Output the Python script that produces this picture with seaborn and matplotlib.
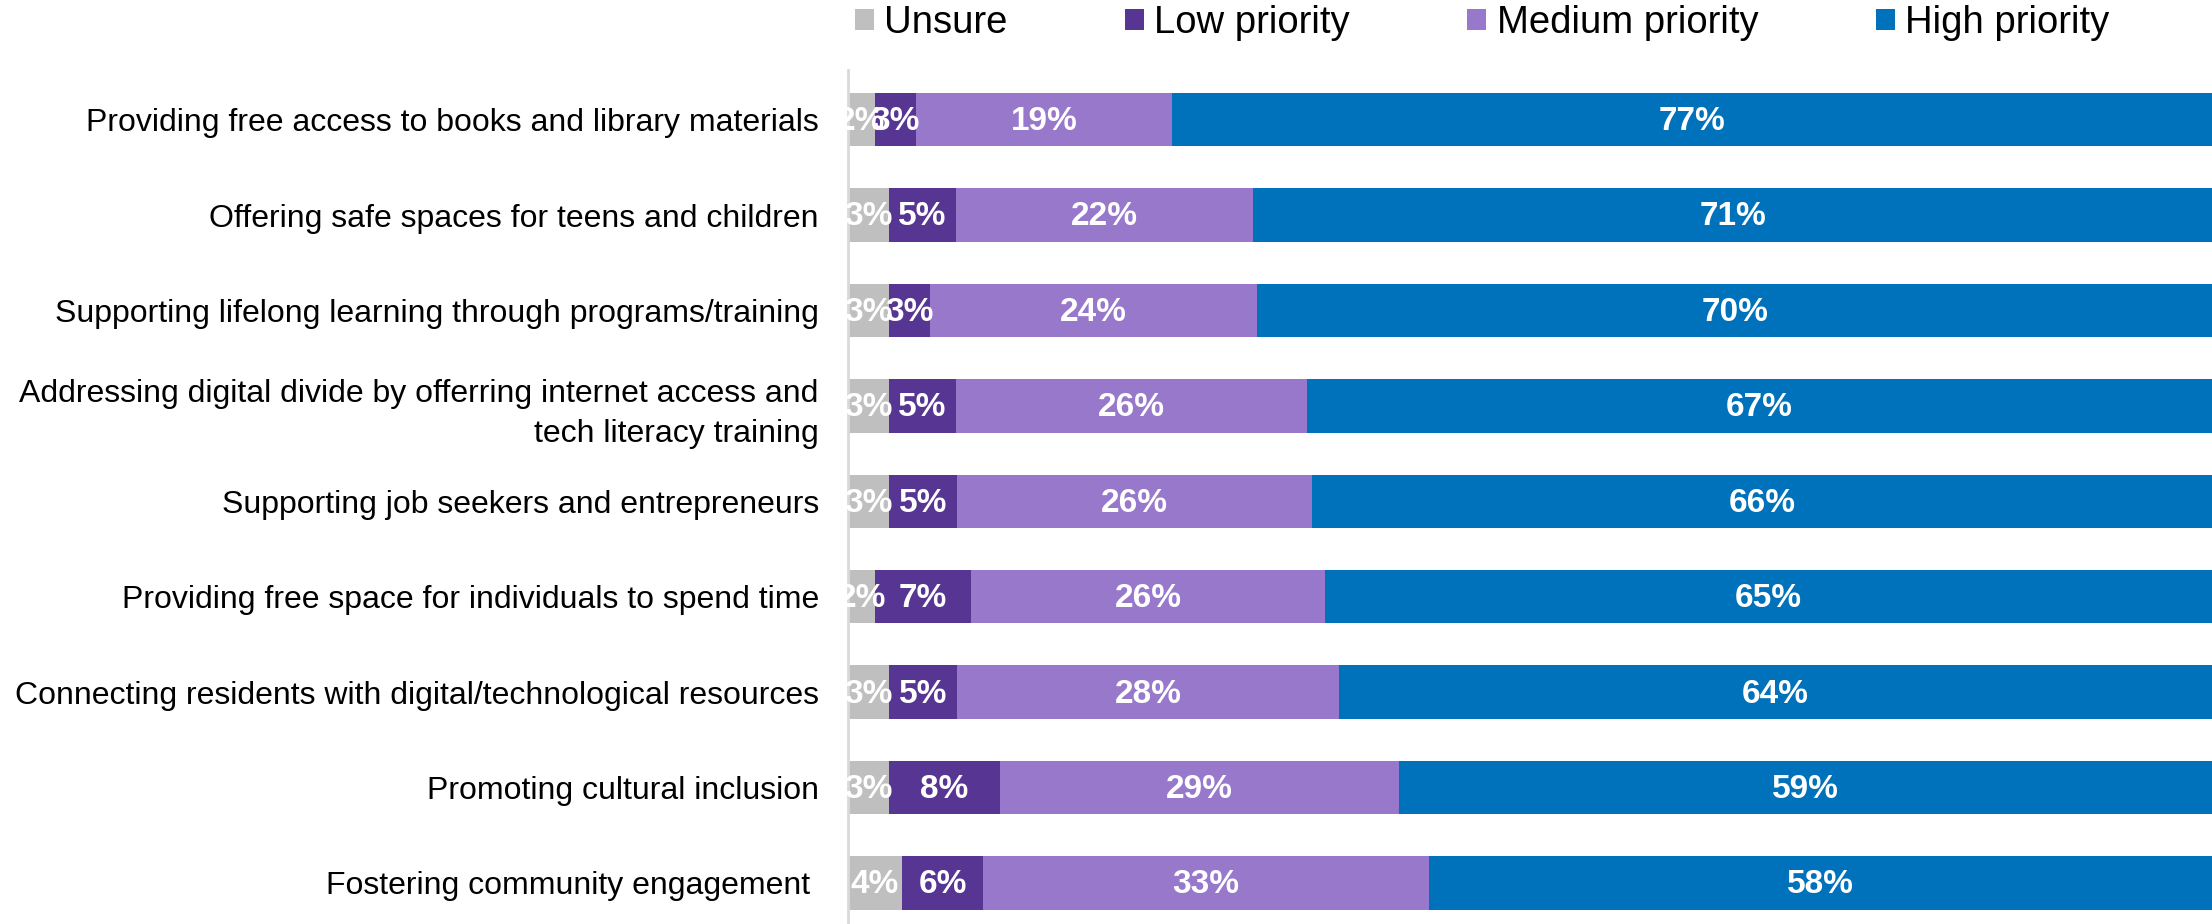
import matplotlib.pyplot as plt
from matplotlib.patches import Patch
import pandas as pd
import seaborn as sns


ITEMS = [
    "Providing free access to books and library materials",
    "Offering safe spaces for teens and children",
    "Supporting lifelong learning through programs/training",
    "Addressing digital divide by offerring internet access and\ntech literacy training",
    "Supporting job seekers and entrepreneurs",
    "Providing free space for individuals to spend time",
    "Connecting residents with digital/technological resources",
    "Promoting cultural inclusion",
    "Fostering community engagement ",
]
UNSURE = [2, 3, 3, 3, 3, 2, 3, 3, 4]
LOW = [3, 5, 3, 5, 5, 7, 5, 8, 6]
MEDIUM = [19, 22, 24, 26, 26, 26, 28, 29, 33]
HIGH = [77, 71, 70, 67, 66, 65, 64, 59, 58]

SERIES = ["Unsure", "Low priority", "Medium priority", "High priority"]
PALETTE = {
    "Unsure": "#bfbfbf",
    "Low priority": "#573593",
    "Medium priority": "#9778cb",
    "High priority": "#0071bb",
}


def main():
    sns.set_theme(style="white")
    plt.rcParams["font.family"] = ["Liberation Sans", "DejaVu Sans"]

    df = pd.DataFrame({
        "item": ITEMS,
        "Unsure": UNSURE,
        "Low priority": LOW,
        "Medium priority": MEDIUM,
        "High priority": HIGH,
    })
    # 100% stacked: scale each row so the segments fill the bar
    shares = df[SERIES].div(df[SERIES].sum(axis=1), axis=0) * 100
    cum = shares.cumsum(axis=1)

    fig = plt.figure(figsize=(22.12, 9.24), dpi=100)
    ax = fig.add_axes([848 / 2212, 0, 1 - 848 / 2212, 1 - 70 / 924])

    # draw cumulative totals from the widest down so each segment shows
    for name in reversed(SERIES):
        sns.barplot(
            x=cum[name], y=df["item"], order=ITEMS, orient="h",
            color=PALETTE[name], width=0.56, linewidth=0, saturation=1, ax=ax,
        )

    for i in range(len(ITEMS)):
        for name in SERIES:
            mid = cum.loc[i, name] - shares.loc[i, name] / 2
            ax.text(mid, i + 0.02, f"{df.loc[i, name]}%", ha="center", va="center",
                    color="white", fontsize=24, fontweight="bold")

    ax.set_xlim(0, 100)
    ax.set_ylim(8.43, -0.52)
    ax.set_xlabel("")
    ax.set_ylabel("")
    ax.set_xticks([])
    ax.tick_params(axis="y", length=0, pad=21, labelsize=23, labelcolor="black")
    for lbl in ax.get_yticklabels():
        lbl.set_linespacing(1.42)
    for side in ["top", "right", "bottom"]:
        ax.spines[side].set_visible(False)
    ax.spines["left"].set_color("#d9d9d9")
    ax.spines["left"].set_linewidth(2)

    handles = [Patch(facecolor=PALETTE[s], edgecolor="none", label=s) for s in SERIES]
    leg = fig.legend(
        handles=handles, loc="center left", bbox_to_anchor=(855 / 2212, 1 - 23 / 924),
        ncol=4, frameon=False, fontsize=27.5, handlelength=0.5, handleheight=0.5,
        handletextpad=0.27, columnspacing=3.07, borderaxespad=0, borderpad=0,
    )
    for txt in leg.get_texts():
        txt.set_color("black")

    fig.savefig("out.png", dpi=100)
    plt.close(fig)


if __name__ == "__main__":
    main()
